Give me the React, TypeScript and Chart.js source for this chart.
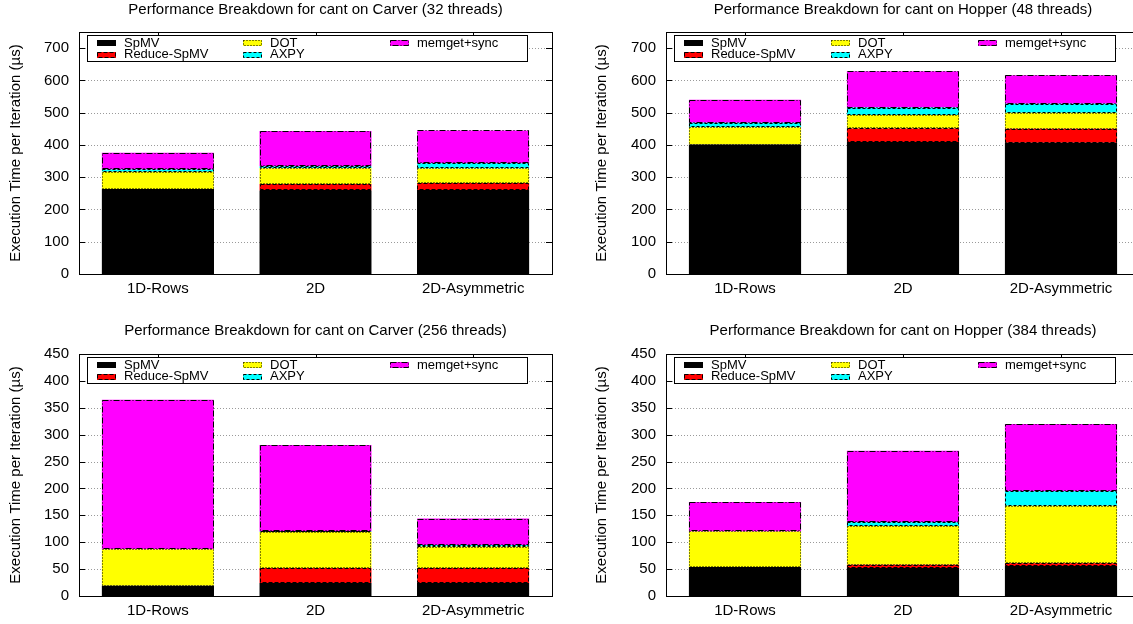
import React, { useEffect, useRef } from 'react';
import { Chart, registerables } from 'chart.js';

Chart.register(...registerables);

const FONT = "'Liberation Sans', Arial, Helvetica, sans-serif";

const categories = ['1D-Rows', '2D', '2D-Asymmetric'];
const seriesNames = ['SpMV', 'Reduce-SpMV', 'DOT', 'AXPY', 'memget+sync'];
const seriesColors = ['#000000', '#ff0000', '#ffff00', '#00ffff', '#ff00ff'];
const seriesDash: number[][] = [[], [4, 2], [1, 2], [3, 2], [6, 2, 1, 2]];
const yAxisTitle = 'Execution Time per Iteration (µs)';

// Carver, 32 threads
const carver32SpMV = [263, 259, 259];
const carver32Reduce = [0, 20, 23];
const carver32Dot = [54, 49, 45];
const carver32Axpy = [7, 6, 16];
const carver32Memget = [52, 109, 102];

// Hopper, 48 threads
const hopper48SpMV = [401, 408, 407];
const hopper48Reduce = [0, 43, 43];
const hopper48Dot = [54, 42, 50];
const hopper48Axpy = [14, 23, 28];
const hopper48Memget = [71, 112, 88];

// Carver, 256 threads
const carver256SpMV = [19, 24, 24];
const carver256Reduce = [0, 28, 28];
const carver256Dot = [68, 67, 40];
const carver256Axpy = [0, 1, 3];
const carver256Memget = [278, 161, 49];

// Hopper, 384 threads
const hopper384SpMV = [53, 52, 55];
const hopper384Reduce = [0, 6, 6];
const hopper384Dot = [67, 72, 107];
const hopper384Axpy = [0, 7, 27];
const hopper384Memget = [55, 133, 125];

// y axis ranges / tick steps
const topYMax = 750;
const topYStep = 100;
const bottomYMax = 450;
const bottomYStep = 50;

type PanelDef = {
  title: string;
  series: number[][];
  yMax: number;
  yStep: number;
  left: number;
  top: number;
  width: number;
  height: number;
  padLeft: number;
  padRight: number;
  yWidth: number;
  xHeight: number;
  titlePadTop: number;
  titlePadBottom: number;
};

const panels: PanelDef[] = [
  {
    title: 'Performance Breakdown for cant on Carver (32 threads)',
    series: [carver32SpMV, carver32Reduce, carver32Dot, carver32Axpy, carver32Memget],
    yMax: topYMax, yStep: topYStep,
    left: 0, top: 0, width: 566, height: 312,
    padLeft: 0, padRight: 14, yWidth: 79, xHeight: 38,
    titlePadTop: 1, titlePadBottom: 13,
  },
  {
    title: 'Performance Breakdown for cant on Hopper (48 threads)',
    series: [hopper48SpMV, hopper48Reduce, hopper48Dot, hopper48Axpy, hopper48Memget],
    yMax: topYMax, yStep: topYStep,
    left: 566, top: 0, width: 588, height: 312,
    padLeft: 20, padRight: 14, yWidth: 80, xHeight: 38,
    titlePadTop: 1, titlePadBottom: 13,
  },
  {
    title: 'Performance Breakdown for cant on Carver (256 threads)',
    series: [carver256SpMV, carver256Reduce, carver256Dot, carver256Axpy, carver256Memget],
    yMax: bottomYMax, yStep: bottomYStep,
    left: 0, top: 312, width: 566, height: 312,
    padLeft: 0, padRight: 14, yWidth: 79, xHeight: 28,
    titlePadTop: 10, titlePadBottom: 14,
  },
  {
    title: 'Performance Breakdown for cant on Hopper (384 threads)',
    series: [hopper384SpMV, hopper384Reduce, hopper384Dot, hopper384Axpy, hopper384Memget],
    yMax: bottomYMax, yStep: bottomYStep,
    left: 566, top: 312, width: 588, height: 312,
    padLeft: 20, padRight: 14, yWidth: 80, xHeight: 28,
    titlePadTop: 10, titlePadBottom: 14,
  },
];

const decorPlugin = {
  id: 'gnuplotDecor',
  beforeDatasetsDraw(chart: any) {
    const { ctx, chartArea: a, scales } = chart;
    const y = scales.y;
    const x = scales.x;
    ctx.save();
    // dotted horizontal grid
    ctx.strokeStyle = '#9a9a9a';
    ctx.lineWidth = 1;
    ctx.setLineDash([1, 2]);
    y.ticks.forEach((t: any) => {
      const py = Math.round(y.getPixelForValue(t.value)) + 0.5;
      ctx.beginPath();
      ctx.moveTo(a.left, py);
      ctx.lineTo(a.right, py);
      ctx.stroke();
    });
    // inward tick marks
    ctx.setLineDash([]);
    ctx.strokeStyle = '#000';
    y.ticks.forEach((t: any) => {
      const py = Math.round(y.getPixelForValue(t.value)) + 0.5;
      ctx.beginPath();
      ctx.moveTo(a.left, py);
      ctx.lineTo(a.left + 6, py);
      ctx.moveTo(a.right - 6, py);
      ctx.lineTo(a.right, py);
      ctx.stroke();
    });
    categories.forEach((_, i) => {
      const px = Math.round(x.getPixelForValue(i)) + 0.5;
      ctx.beginPath();
      ctx.moveTo(px, a.top);
      ctx.lineTo(px, a.top + 6);
      ctx.moveTo(px, a.bottom - 6);
      ctx.lineTo(px, a.bottom);
      ctx.stroke();
    });
    ctx.restore();
  },
  afterDatasetsDraw(chart: any) {
    const { ctx, chartArea: a } = chart;
    ctx.save();
    // dashed outlines of bar segments
    ctx.lineWidth = 1;
    ctx.strokeStyle = '#000';
    chart.data.datasets.forEach((ds: any, i: number) => {
      const meta = chart.getDatasetMeta(i);
      meta.data.forEach((el: any, j: number) => {
        if (!ds.data[j]) return;
        const p = el.getProps(['x', 'y', 'base', 'width'], true);
        const l = Math.round(p.x - p.width / 2) + 0.5;
        const r = Math.round(p.x + p.width / 2) - 0.5;
        const t = Math.round(Math.min(p.y, p.base)) + 0.5;
        const b = Math.round(Math.max(p.y, p.base)) - 0.5;
        ctx.setLineDash(seriesDash[i]);
        ctx.strokeRect(l, t, r - l, b - t);
      });
    });
    // frame
    ctx.setLineDash([]);
    ctx.strokeStyle = '#000';
    ctx.strokeRect(Math.round(a.left) + 0.5, Math.round(a.top) + 0.5,
      Math.round(a.right - a.left), Math.round(a.bottom - a.top));
    // legend box
    const bl = Math.round(a.left + 8) + 0.5;
    const br = Math.round(a.right - 25) + 0.5;
    const bt = Math.round(a.top + 3) + 0.5;
    const bb = bt + 26;
    ctx.fillStyle = '#fff';
    ctx.fillRect(bl, bt, br - bl, bb - bt);
    ctx.strokeRect(bl, bt, br - bl, bb - bt);
    const colW = (br - bl) / 3;
    ctx.font = `13px ${FONT}`;
    ctx.textBaseline = 'middle';
    ctx.textAlign = 'left';
    seriesNames.forEach((name, k) => {
      const col = Math.floor(k / 2);
      const row = k % 2;
      const sx = Math.round(bl + 9 + col * colW);
      const cy = bt + 7.5 + row * 11.5;
      const sy = Math.round(cy - 3);
      ctx.fillStyle = seriesColors[k];
      ctx.fillRect(sx, sy, 19, 6);
      ctx.setLineDash(seriesDash[k]);
      ctx.strokeStyle = '#000';
      ctx.strokeRect(sx + 0.5, sy + 0.5, 18, 5);
      ctx.setLineDash([]);
      ctx.fillStyle = '#000';
      ctx.fillText(name, sx + 27, cy);
    });
    ctx.restore();
  },
};

function Panel({ panel }: { panel: PanelDef }) {
  const ref = useRef<HTMLCanvasElement>(null);
  useEffect(() => {
    if (!ref.current) return;
    const chart = new Chart(ref.current, {
      type: 'bar',
      data: {
        labels: categories,
        datasets: seriesNames.map((name, i) => ({
          label: name,
          data: panel.series[i],
          backgroundColor: seriesColors[i],
          borderWidth: 0,
          barPercentage: 0.71,
          categoryPercentage: 1,
        })),
      },
      options: {
        responsive: false,
        animation: false,
        devicePixelRatio: 1,
        layout: {
          padding: { left: panel.padLeft, right: panel.padRight, top: 0, bottom: 0 },
        },
        plugins: {
          legend: { display: false },
          tooltip: { enabled: false },
          title: {
            display: true,
            text: panel.title,
            fullSize: false,
            color: '#000',
            font: { family: FONT, size: 15, weight: 'normal', lineHeight: 1.2 },
            padding: { top: panel.titlePadTop, bottom: panel.titlePadBottom },
          },
        },
        scales: {
          x: {
            stacked: true,
            grid: { display: false, drawTicks: false },
            border: { display: false },
            ticks: {
              color: '#000',
              font: { family: FONT, size: 15 },
              padding: 6,
              maxRotation: 0,
              autoSkip: false,
            },
            afterFit: (s: any) => { s.height = panel.xHeight; },
          },
          y: {
            stacked: true,
            min: 0,
            max: panel.yMax,
            grid: { display: false, drawTicks: false },
            border: { display: false },
            ticks: {
              stepSize: panel.yStep,
              includeBounds: false,
              color: '#000',
              font: { family: FONT, size: 15 },
              padding: 10,
            },
            title: {
              display: true,
              text: yAxisTitle,
              color: '#000',
              font: { family: FONT, size: 15, lineHeight: 1.2 },
              padding: { top: 7, bottom: 0 },
            },
            afterFit: (s: any) => { s.width = panel.yWidth; },
          },
        },
      },
      plugins: [decorPlugin],
    } as any);
    return () => chart.destroy();
  }, [panel]);
  return (
    <canvas
      ref={ref}
      width={panel.width}
      height={panel.height}
      style={{ position: 'absolute', left: panel.left, top: panel.top, width: panel.width, height: panel.height }}
    />
  );
}

export default function App() {
  return (
    <div
      style={{
        position: 'fixed', left: 0, top: 0, width: 1133, height: 624,
        overflow: 'hidden', background: '#fff',
      }}
    >
      {panels.map((p, i) => (
        <Panel key={i} panel={p} />
      ))}
    </div>
  );
}
